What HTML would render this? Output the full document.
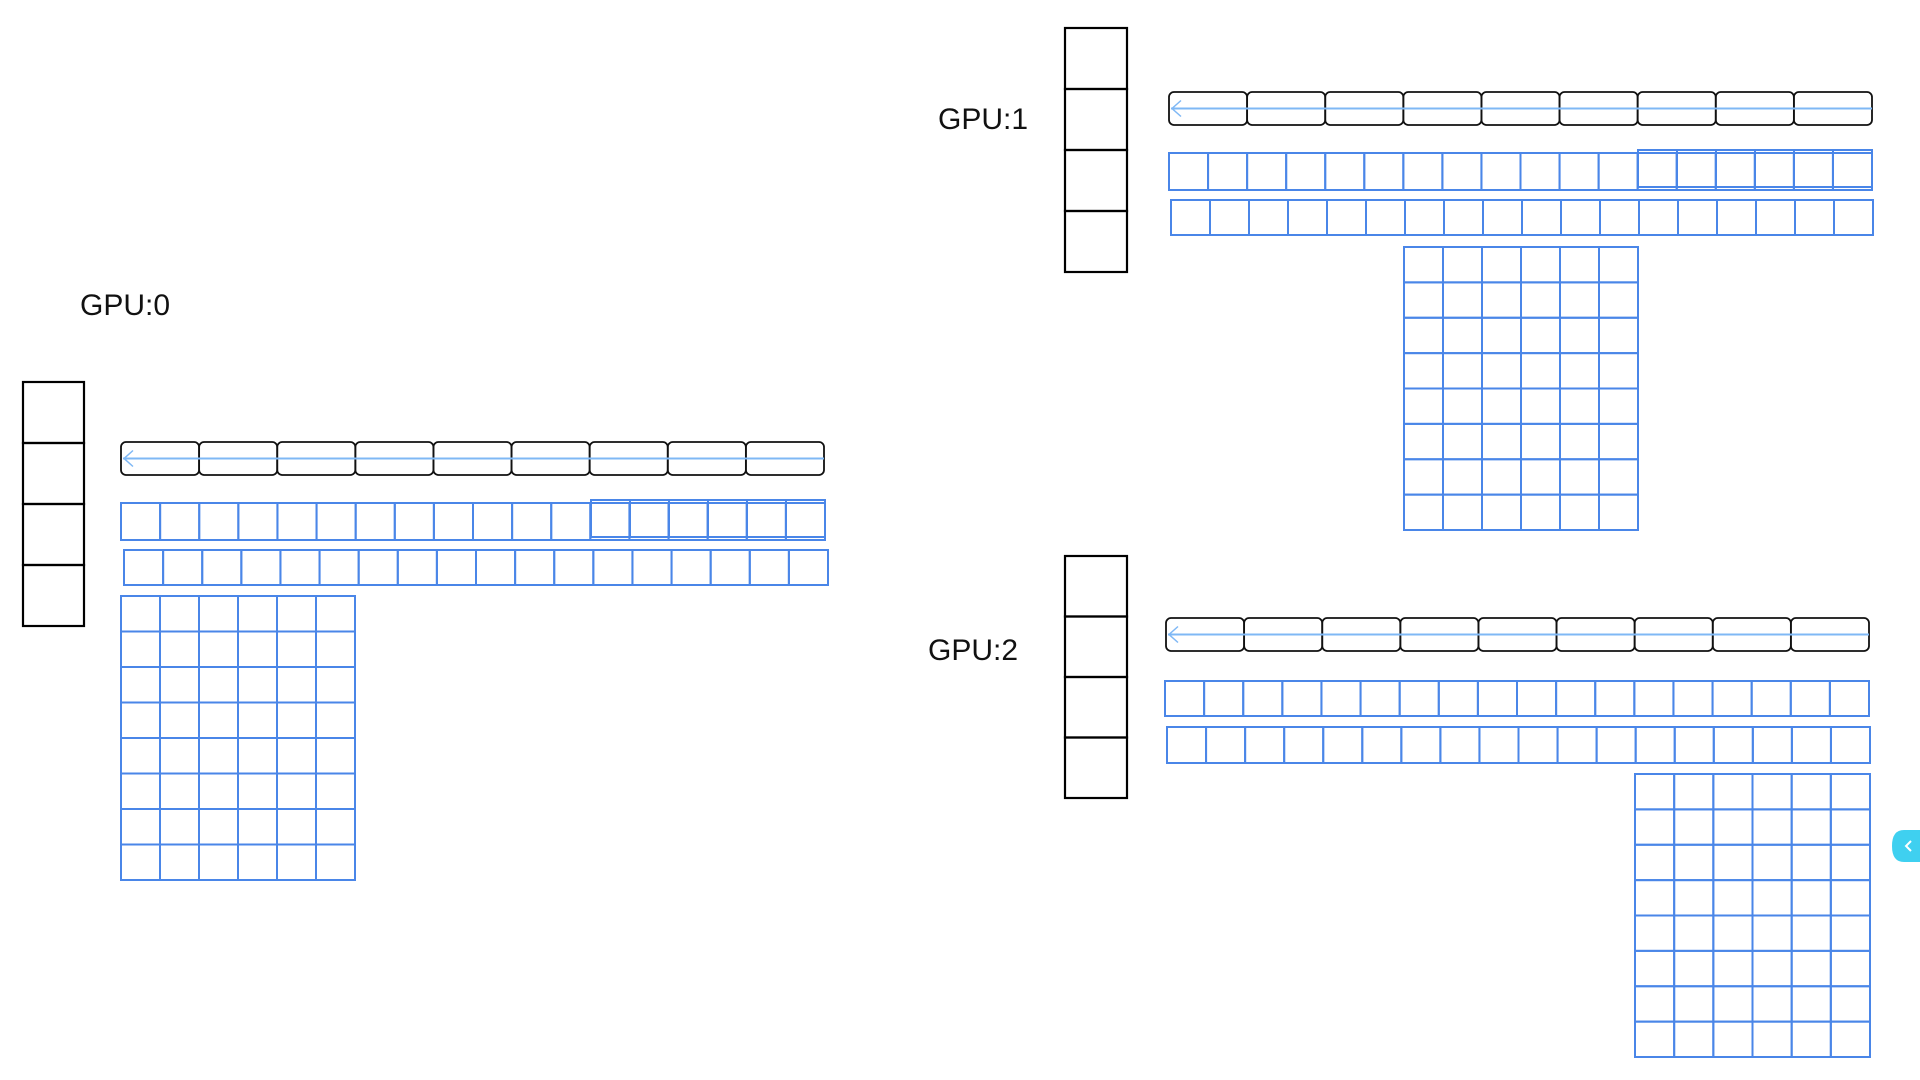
<!DOCTYPE html>
<html><head><meta charset="utf-8"><style>
html,body{margin:0;padding:0;background:#fff;width:1920px;height:1080px;overflow:hidden}
svg{display:block}
text{font-family:"Liberation Sans Narrow","Liberation Sans",sans-serif;font-size:30px;fill:#111}
</style></head><body>
<svg id="s" width="1920" height="1080" xmlns="http://www.w3.org/2000/svg">
<text x="80" y="315">GPU:0</text>
<text x="938" y="129">GPU:1</text>
<text x="928" y="660">GPU:2</text>
<path d="M1904,830 q-12,0 -12,16 q0,16 12,16 h16 v-32z" fill="#3fd0f0"/>
<polyline points="1911,841 1906,846 1911,851" fill="none" stroke="#fff" stroke-width="2"/>
<g id="g"></g>
</svg>
<script>
var g=document.getElementById('g'),h='';
function stack(x,y,w,ch){for(var i=0;i<4;i++)h+='<rect x="'+x+'" y="'+(y+i*ch)+'" width="'+w+'" height="'+ch+'" fill="none" stroke="#000" stroke-width="2.2"/>';}
function rrow(x,y,w,hh){var cw=w/9;for(var i=0;i<9;i++)h+='<rect x="'+(x+i*cw)+'" y="'+y+'" width="'+cw+'" height="'+hh+'" rx="5" fill="none" stroke="#111" stroke-width="1.8"/>';
var my=y+hh/2;h+='<line x1="'+(x+2)+'" y1="'+my+'" x2="'+(x+w)+'" y2="'+my+'" stroke="#7fb8f5" stroke-width="2"/>';
h+='<polyline points="'+(x+12)+','+(my-8)+' '+(x+3)+','+my+' '+(x+12)+','+(my+8)+'" fill="none" stroke="#7fb8f5" stroke-width="1.5"/>';}
function grid(x,y,w,hh,cols,rows){var cw=w/cols,rh=hh/rows;for(var r=0;r<rows;r++)for(var c=0;c<cols;c++)h+='<rect x="'+(x+c*cw)+'" y="'+(y+r*rh)+'" width="'+cw+'" height="'+rh+'" fill="none" stroke="#4a86e8" stroke-width="2"/>';}
// GPU0
stack(23,382,61,61);rrow(121,442,703,33);grid(121,503,704,37,18,1);grid(591,500,234,37,6,1);grid(124,550,704,35,18,1);grid(121,596,234,284,6,8);
// GPU1
stack(1065,28,62,61);rrow(1169,92,703,33);grid(1169,153,703,37,18,1);grid(1638,150,234,37,6,1);grid(1171,200,702,35,18,1);grid(1404,247,234,283,6,8);
// GPU2
stack(1065,556,62,60.5);rrow(1166,618,703,33);grid(1165,681,704,35,18,1);grid(1167,727,703,36,18,1);grid(1635,774,235,283,6,8);
g.innerHTML=h;
</script>
</body></html>
